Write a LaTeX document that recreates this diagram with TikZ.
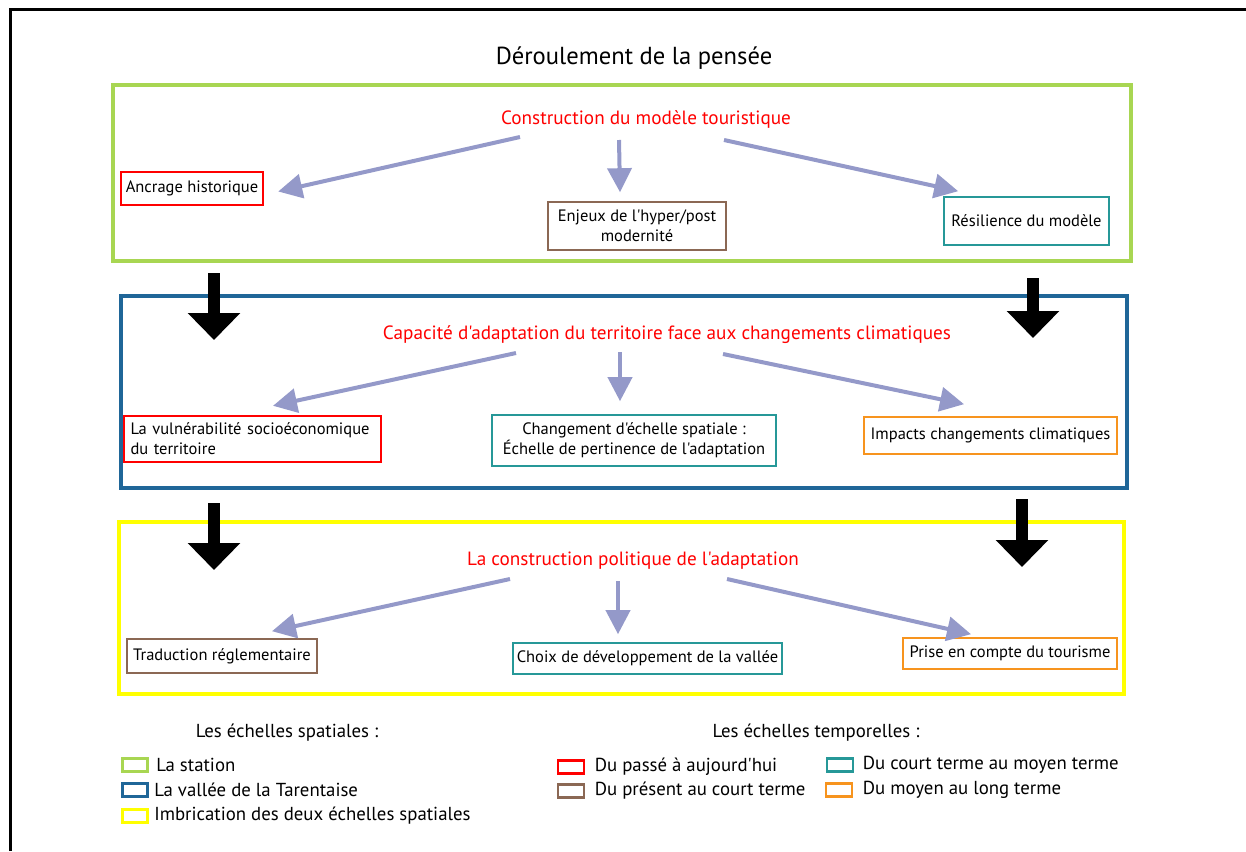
\documentclass[tikz,border=0pt]{standalone}
\usepackage{fontspec}
\setmainfont{PT Sans}[Ligatures=TeXOff]
\usepackage{tikz}
\usetikzlibrary{shapes,arrows,arrows.meta,positioning,calc}
\definecolor{stationgreen}{RGB}{168,214,82}
\definecolor{valleyblue}{RGB}{31,102,152}
\definecolor{imbricyellow}{RGB}{255,255,0}
\definecolor{termbrown}{RGB}{139,104,84}
\definecolor{termteal}{RGB}{38,152,152}
\definecolor{termorange}{RGB}{247,148,30}
\definecolor{lavender}{RGB}{148,153,201}
\tikzstyle{bigbox} = [rectangle, draw, line width=2pt]
\tikzstyle{smallbox} = [rectangle, draw, line width=0.8pt, align=center,
    font=\fontsize{8.25}{10}\selectfont, inner sep=2pt]
\tikzstyle{heading} = [text=red, inner sep=0pt, font=\fontsize{9.6}{11}\selectfont]
\tikzstyle{line} = [draw, -{Triangle[length=12pt,width=12pt]}, line width=2pt, lavender]
\tikzstyle{bigline} = [draw, -{Triangle[length=13.5pt,width=25.5pt]}, line width=6pt, black]
\tikzstyle{legbox} = [rectangle, draw, line width=1.4pt, minimum width=12.5pt, minimum height=6.5pt, inner sep=0pt]
\tikzstyle{legtext} = [inner sep=0pt, font=\fontsize{9.4}{11}\selectfont]

\begin{document}
\begin{tikzpicture}[x=0.5pt,y=0.5pt]
    \useasboundingbox (0,0) rectangle (1246,-851);
    \draw[line width=1.5pt] (10,-851) -- (10,-9) -- (1246,-9);
    \node [inner sep=0pt, font=\fontsize{12.3}{14}\selectfont] (titre) at (634,-58) {Déroulement de la pensée};
    % spatial scales
    \node [bigbox, draw=stationgreen, minimum width=509pt, minimum height=88pt] (station) at (622,-173) {};
    \node [bigbox, draw=valleyblue, minimum width=503pt, minimum height=96pt] (vallee) at (624,-392) {};
    \node [bigbox, draw=imbricyellow, minimum width=502.5pt, minimum height=86pt] (imbric) at (621.5,-608) {};
    % first level
    \node [heading] (h1) at (646,-120) {Construction du modèle touristique};
    \node [smallbox, draw=red, line width=1.2pt, minimum width=71pt, minimum height=16.5pt] (anc) at (192,-188.5) {Ancrage historique};
    \node [smallbox, draw=termbrown, minimum width=89pt, minimum height=24pt] (enj) at (637,-226) {Enjeux de l'hyper/post\\ modernité};
    \node [smallbox, draw=termteal, minimum width=82.5pt, minimum height=24pt] (res) at (1026.5,-221) {Résilience du modèle};
    % second level
    \node [heading] (h2) at (667,-335) {Capacité d'adaptation du territoire face aux changements climatiques};
    \node [smallbox, draw=red, line width=1.2pt, minimum width=128.5pt, minimum height=23pt, text width=122pt, align=left, inner xsep=3pt] (vul) at (252.5,-439) {La vulnérabilité socioéconomique\\ du territoire};
    \node [smallbox, draw=termteal, minimum width=142pt, minimum height=25.5pt] (chg) at (634,-440.5) {Changement d'échelle spatiale :\\ Échelle de pertinence de l'adaptation};
    \node [smallbox, draw=termorange, minimum width=126.5pt, minimum height=18.5pt] (imp) at (990.5,-435.5) {Impacts changements climatiques};
    % third level
    \node [heading] (h3) at (633,-561) {La construction politique de l'adaptation};
    \node [smallbox, draw=termbrown, minimum width=95pt, minimum height=17pt] (trad) at (222,-656) {Traduction réglementaire};
    \node [smallbox, draw=termteal, minimum width=132.5pt, minimum height=15.5pt] (choix) at (647.5,-658.5) {Choix de développement de la vallée};
    \node [smallbox, draw=termorange, minimum width=107pt, minimum height=15.5pt] (prise) at (1010,-653.5) {Prise en compte du tourisme};
    % Draw edges
    \path[line] ([shift={(-126,-17)}]h1.center) -- ([shift={(14,-3)}]anc.east);
    \path[line] ([shift={(-27,-20)}]h1.center) -- ([shift={(-17,9)}]enj.north);
    \path[line] ([shift={(78,-20)}]h1.center) -- ([shift={(15,5)}]res.north west);
    \path[line] ([shift={(-151,-18)}]h2.center) -- ([shift={(20.5,9)}]vul.north);
    \path[line] ([shift={(-47,-17)}]h2.center) -- ([shift={(-14,13)}]chg.north);
    \path[line] ([shift={(56,-19)}]h2.center) -- ([shift={(-26.5,12)}]imp.north);
    \path[line] ([shift={(-123,-18)}]h3.center) -- ([shift={(50,7)}]trad.north);
    \path[line] ([shift={(-15,-20)}]h3.center) -- ([shift={(-29.5,8)}]choix.north);
    \path[line] ([shift={(94,-18)}]h3.center) -- ([shift={(-39,3)}]prise.north);
    \path[bigline] ([shift={(103,-10)}]station.south west) -- ([shift={(95,-46)}]vallee.north west);
    \path[bigline] ([shift={(-100,-15)}]station.south east) -- ([shift={(-96,-44)}]vallee.north east);
    \path[bigline] ([shift={(95,-13)}]vallee.south west) -- ([shift={(97,-50)}]imbric.north west);
    \path[bigline] ([shift={(-107,-9)}]vallee.south east) -- ([shift={(-104,-47)}]imbric.north east);
    % legend
    \node [legtext] (legsp) at (287,-733) {Les échelles spatiales :};
    \node [legtext] (legtp) at (816,-733) {Les échelles temporelles :};
    \node [legbox, draw=stationgreen] (cstation) at (135,-765) {};
    \node [legtext, right=3.5pt of cstation] (tstation) {La station};
    \node [legbox, draw=valleyblue] (cvallee) at (135,-790) {};
    \node [legtext, right=2.5pt of cvallee] (tvallee) {La vallée de la Tarentaise};
    \node [legbox, draw=imbricyellow] (cimbric) at (135,-816) {};
    \node [legtext, right=2.5pt of cimbric] (timbric) {Imbrication des deux échelles spatiales};
    \node [legbox, draw=red, minimum width=13pt] (cpasse) at (571,-767) {};
    \node [legtext, right=4.5pt of cpasse] (tpasse) {Du passé à aujourd'hui};
    \node [legbox, draw=termbrown, minimum width=13pt] (cpresent) at (571,-791) {};
    \node [legtext, right=4.5pt of cpresent] (tpresent) {Du présent au court terme};
    \node [legbox, draw=termteal, minimum width=13pt] (ccourt) at (840,-765) {};
    \node [legtext, right=4pt of ccourt] (tcourt) {Du court terme au moyen terme};
    \node [legbox, draw=termorange, minimum width=13pt] (cmoyen) at (839,-790) {};
    \node [legtext, right=4.5pt of cmoyen] (tmoyen) {Du moyen au long terme};
\end{tikzpicture}
\end{document}
